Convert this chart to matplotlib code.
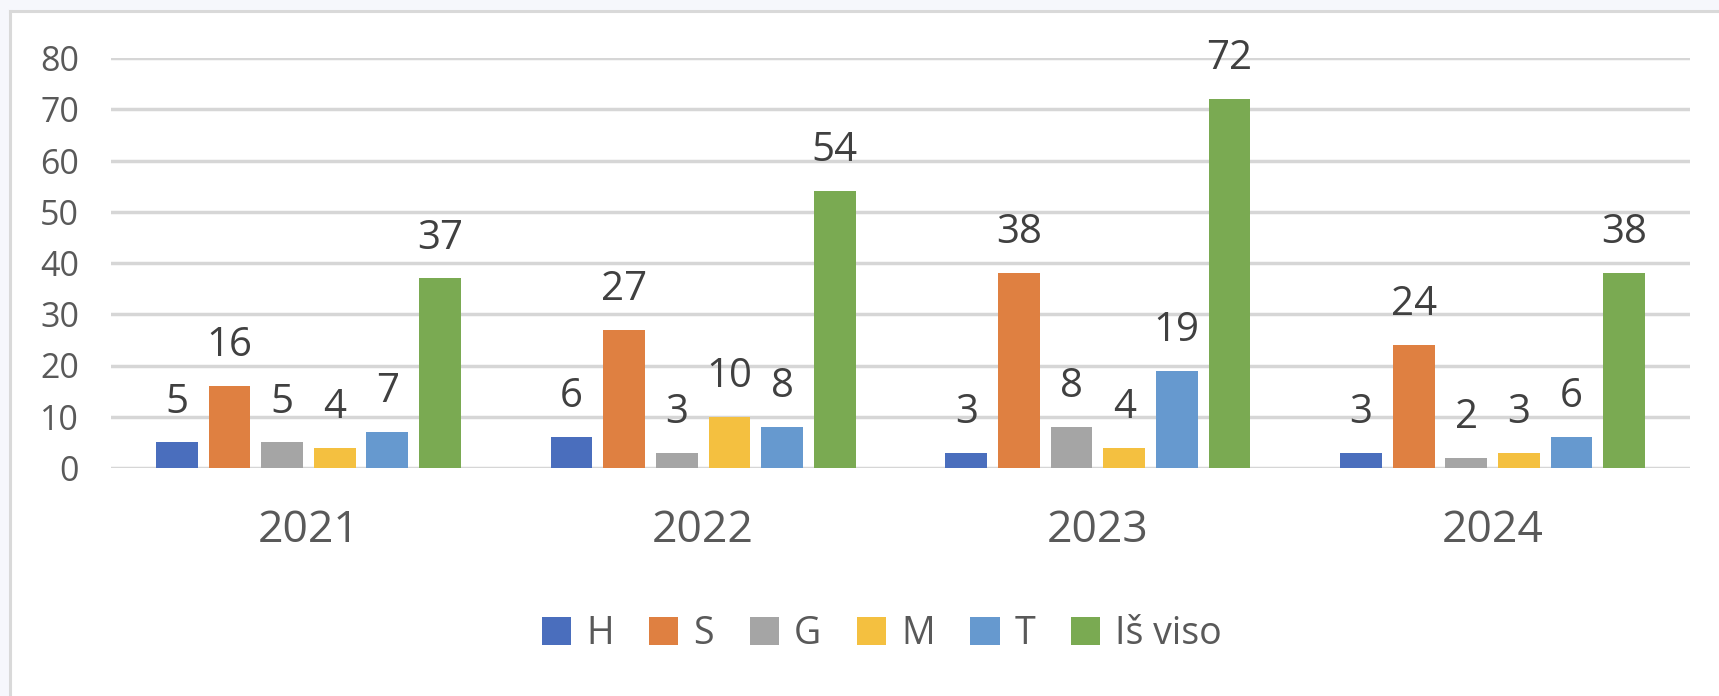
import numpy as np
import matplotlib
matplotlib.use("Agg")
import matplotlib.pyplot as plt
from matplotlib.patches import Rectangle
from matplotlib.lines import Line2D

# 数据
years = ["2021", "2022", "2023", "2024"]
series_names = ["H", "S", "G", "M", "T", "Iš viso"]
H = [5, 6, 3, 3]
S = [16, 27, 38, 24]
G = [5, 3, 8, 2]
M = [4, 10, 4, 3]
T = [7, 8, 19, 6]
total = [37, 54, 72, 38]
colors = ["#4a6ebd", "#df8041", "#a5a5a5", "#f4c040", "#6699cf", "#7aaa52"]

plt.rcParams['font.family'] = ['Open Sans', 'DejaVu Sans']

fig = plt.figure(figsize=(17.19, 6.96), dpi=100)
fig.patch.set_facecolor("#f6f7fc")

# 白色图表区域和边框
fig.patches.append(Rectangle((10 / 1719, 0), 1, 1 - 11 / 696, transform=fig.transFigure,
                             facecolor="white", edgecolor="none", zorder=-2))
fig.lines.append(Line2D([10 / 1719, 10 / 1719], [0, 1 - 11 / 696], transform=fig.transFigure,
                        color="#d9d9d9", lw=2.2, zorder=-1))
fig.lines.append(Line2D([10 / 1719, 1], [1 - 11 / 696, 1 - 11 / 696], transform=fig.transFigure,
                        color="#d9d9d9", lw=2.2, zorder=-1))

ax = fig.add_axes([111 / 1719, 1 - 468 / 696, (1690 - 111) / 1719, (468 - 58) / 696])
ax.set_facecolor("none")
ax.set_zorder(1)

data = [H, S, G, M, T, total]
x = np.arange(len(years))
step = 0.1333
width = 0.1056
for i, (vals, name, c) in enumerate(zip(data, series_names, colors)):
    pos = x + (i - 2.5) * step
    bars = ax.bar(pos, vals, width, color=c, label=name, zorder=3)
    for xi, v in zip(pos, vals):
        ax.annotate(str(v), (xi, v), xytext=(0, 21.5), textcoords="offset points",
                    ha="center", va="baseline", fontsize=29, color="#404040",
                    annotation_clip=False, zorder=4)

ax.set_xlim(-0.5, 3.5)
ax.set_ylim(0, 80)
ax.set_yticks(range(0, 81, 10))
ax.grid(axis="y", color="#d6d6d6", lw=2.5, zorder=0)
ax.set_axisbelow(True)
for sp in ax.spines.values():
    sp.set_visible(False)
ax.tick_params(axis="y", length=0, pad=23, labelsize=24.5, labelcolor="#595959")
ax.set_xticks(x)
ax.set_xticklabels(years)
ax.tick_params(axis="x", length=0, pad=29, labelsize=32, labelcolor="#595959")

leg = fig.legend(loc="center", bbox_to_anchor=(0.513, 0.089), ncol=6, frameon=False,
                 fontsize=27, handlelength=0.78, handleheight=0.78, handletextpad=0.4,
                 columnspacing=0.95, labelcolor="#595959")

fig.savefig("out.png", dpi=100, facecolor=fig.get_facecolor())
